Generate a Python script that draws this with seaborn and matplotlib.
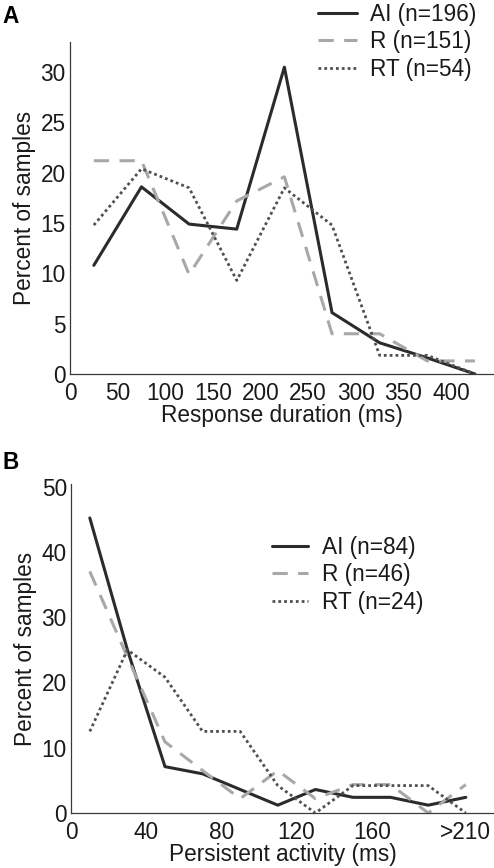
import numpy as np
import pandas as pd
import matplotlib
matplotlib.use("Agg")
import matplotlib.pyplot as plt
import seaborn as sns

# ---------------- data ----------------
# Panel A: response duration bins (ms, bin centres)
dur_x = [25, 75, 125, 175, 225, 275, 325, 375, 425]
dur_AI = [10.8, 18.6, 14.9, 14.4, 30.5, 6.1, 3.1, 1.6, 0.0]
dur_R = [21.2, 21.2, 9.9, 17.2, 19.6, 4.0, 4.0, 1.3, 1.3]
dur_RT = [14.8, 20.4, 18.5, 9.3, 18.5, 14.8, 1.85, 1.85, 0.0]
dur_labels = ["AI (n=196)", "R (n=151)", "RT (n=54)"]
dur_xticks = [0, 50, 100, 150, 200, 250, 300, 350, 400]
dur_yticks = [0, 5, 10, 15, 20, 25, 30]

# Panel B: persistent activity bins (ms, bin centres; last bin = >210)
per_x = [10, 30, 50, 70, 90, 110, 130, 150, 170, 190, 210]
per_AI = [45.2, 25.0, 7.1, 6.0, 3.6, 1.2, 3.6, 2.4, 2.4, 1.2, 2.4]
per_R = [37.0, 23.9, 10.9, 6.5, 2.2, 6.5, 2.2, 4.35, 4.35, 0.0, 4.35]
per_RT = [12.5, 25.0, 20.8, 12.5, 12.5, 4.2, 0.0, 4.2, 4.2, 4.2, 0.0]
per_labels = ["AI (n=84)", "R (n=46)", "RT (n=24)"]
per_xticks = [0, 40, 80, 120, 160, 210]
per_xticklabels = ["0", "40", "80", "120", "160", ">210"]
per_yticks = [0, 10, 20, 30, 40, 50]

# ---------------- style ----------------
sns.set_theme(style="white")
plt.rcParams["font.family"] = ["Liberation Sans", "DejaVu Sans"]
FS = 16.3
TXT = "#1a1a1a"
SPINE = "#3a3a3a"

styles = [
    dict(color="#2b2b2b", linewidth=2.2, linestyle="-"),
    dict(color="#a8a8a8", linewidth=2.2, linestyle=(0, (5.0, 3.4))),
    dict(color="#505050", linewidth=2.0, linestyle=(0, (1.0, 1.1))),
]

fig = plt.figure(figsize=(4.94, 8.68), dpi=100)
W, H = 494, 868


def add_axes(l, t, r, b):
    return fig.add_axes([l / W, 1 - b / H, (r - l) / W, (b - t) / H])


axA = add_axes(70, 42, 494, 374)
axB = add_axes(71, 484, 494, 813)


def draw(ax, x, series, labels):
    for ys, lab, st in zip(series, labels, styles):
        df = pd.DataFrame({"x": x, "y": ys})
        sns.lineplot(data=df, x="x", y="y", ax=ax, label=lab, **st)


draw(axA, dur_x, [dur_AI, dur_R, dur_RT], dur_labels)
draw(axB, per_x, [per_AI, per_R, per_RT], per_labels)


def style_ax(ax):
    for s in ["top", "right"]:
        ax.spines[s].set_visible(False)
    for s in ["left", "bottom"]:
        ax.spines[s].set_color(SPINE)
        ax.spines[s].set_linewidth(0.9)
    ax.tick_params(direction="in", length=3.5, width=0.9, color=SPINE,
                   labelsize=FS, labelcolor=TXT)
    ax.tick_params(axis="x", pad=6)
    ax.tick_params(axis="y", pad=3)


axA.set_xlim(0, 445)
axA.set_ylim(0, 33)
axA.set_xticks(dur_xticks)
axA.set_yticks(dur_yticks)
axA.set_xlabel("Response duration (ms)", fontsize=FS, color=TXT, labelpad=-1)
axA.set_ylabel("Percent of samples", fontsize=FS, color=TXT, labelpad=3)
style_ax(axA)

axB.set_xlim(0, 225)
axB.set_ylim(0, 50.4)
axB.set_xticks(per_xticks)
axB.set_xticklabels(per_xticklabels)
axB.set_yticks(per_yticks)
axB.set_xlabel("Persistent activity (ms)", fontsize=FS, color=TXT, labelpad=-1)
axB.set_ylabel("Percent of samples", fontsize=FS, color=TXT, labelpad=3)
style_ax(axB)

legA = axA.legend(loc="upper left", bbox_to_anchor=(318 / W, 1 - 3 / H),
                  bbox_transform=fig.transFigure, frameon=False, fontsize=FS,
                  handlelength=1.72, handletextpad=0.58, labelspacing=0.19,
                  borderpad=0, borderaxespad=0)
legB = axB.legend(loc="upper left", bbox_to_anchor=(272 / W, 1 - 536 / H),
                  bbox_transform=fig.transFigure, frameon=False, fontsize=FS,
                  handlelength=1.6, handletextpad=0.62, labelspacing=0.19,
                  borderpad=0, borderaxespad=0)
for leg in (legA, legB):
    for t in leg.get_texts():
        t.set_color(TXT)

fig.text(2 / W, 1 - 5 / H, "A", fontsize=FS, fontweight="bold", va="top", ha="left", color="black")
fig.text(2 / W, 1 - 451 / H, "B", fontsize=FS, fontweight="bold", va="top", ha="left", color="black")

fig.savefig("out.png", dpi=100)
